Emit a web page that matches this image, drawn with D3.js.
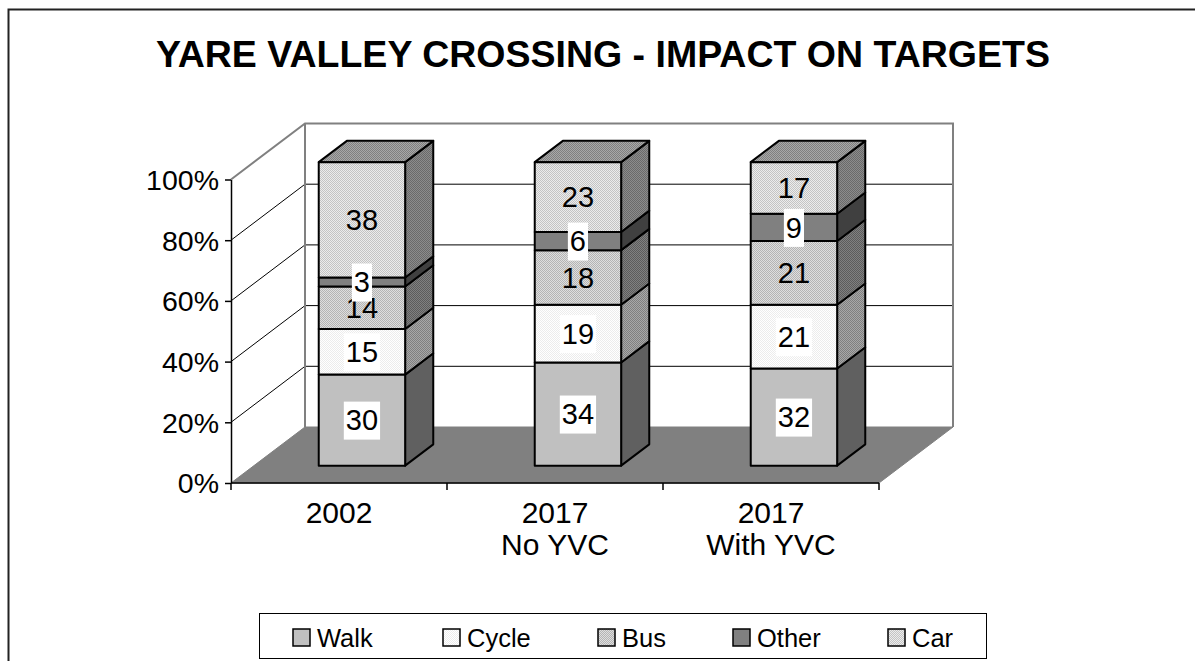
<!DOCTYPE html>
<html>
<head>
<meta charset="utf-8">
<script src="https://cdn.jsdelivr.net/npm/d3@7"></script>
<style>
  body { margin: 0; background: #fff; }
  text { font-family: "Liberation Sans", Arial, sans-serif; }
</style>
</head>
<body>
<div id="chart"></div>
<script>
// data
var categories = [['2002'], ['2017', 'No YVC'], ['2017', 'With YVC']];
var seriesNames = ['Walk', 'Cycle', 'Bus', 'Other', 'Car'];
var walk = [30, 34, 32];
var cycle = [15, 19, 21];
var bus = [14, 18, 21];
var other = [3, 6, 9];
var car = [38, 23, 17];
var yTicks = [0, 20, 40, 60, 80, 100];

var width = 1195;
var height = 661;

// 3d offset of the back wall
var DX = 74, DY = 56;
var z0 = 0.31, z1 = 0.69;

var svg = d3.select('#chart')
  .append('svg')
  .attr('width', width)
  .attr('height', height);

// dotted fills
var defs = svg.append('defs');
function dots(id, base, dot) {
  var p = defs.append('pattern')
    .attr('id', id)
    .attr('width', 2).attr('height', 2)
    .attr('patternUnits', 'userSpaceOnUse');
  p.append('rect').attr('width', 2).attr('height', 2).attr('fill', base);
  p.append('rect').attr('width', 1).attr('height', 1).attr('fill', dot);
  p.append('rect').attr('x', 1).attr('y', 1).attr('width', 1).attr('height', 1).attr('fill', dot);
  return 'url(#' + id + ')';
}

var styles = {
  Walk:  { front: '#c0c0c0', side: '#606060', top: '#909090', label: true },
  Cycle: { front: dots('cyf', '#ffffff', '#ececec'), side: dots('cys', '#a8a8a8', '#808080'), top: '#bbbbbb', label: true },
  Bus:   { front: dots('buf', '#dedede', '#b4b4b4'), side: dots('bus', '#808080', '#5c5c5c'), top: '#999999', label: false },
  Other: { front: '#808080', side: '#404040', top: '#606060', label: true },
  Car:   { front: dots('caf', '#ececec', '#c4c4c4'), side: dots('cas', '#8c8c8c', '#6a6a6a'), top: dots('cat', '#a8a8a8', '#808080'), label: false }
};

var rows = categories.map(function(c, i) {
  return { Walk: walk[i], Cycle: cycle[i], Bus: bus[i], Other: other[i], Car: car[i] };
});
var stack = d3.stack().keys(seriesNames)(rows);

var x = d3.scaleBand()
  .domain(d3.range(categories.length))
  .range([231, 879])
  .padding(0);

var y = d3.scaleLinear()
  .domain([0, 100])
  .range([483, 179.5]);

// project (x, value, depth) onto the page
function P(px, v, z) {
  return [px + z * DX, y(v) - z * DY];
}
function poly(pts) {
  return 'M' + pts.map(function(p) { return p.join(','); }).join('L') + 'Z';
}

// title
svg.append('text')
  .attr('x', 603)
  .attr('y', 67)
  .attr('text-anchor', 'middle')
  .style('font-size', '37.5px')
  .style('font-weight', 'bold')
  .text('YARE VALLEY CROSSING - IMPACT ON TARGETS');

var xl = x.range()[0], xr = x.range()[1];

// walls
svg.append('path')
  .attr('d', poly([P(xl, 0, 0), P(xl, 100, 0), P(xl, 100, 1), P(xl, 0, 1)]))
  .attr('fill', '#fff');
svg.append('path')
  .attr('d', poly([P(xl, 0, 1), P(xl, 100, 1), P(xr, 100, 1), P(xr, 0, 1)]))
  .attr('fill', '#fff');

// gridlines
yTicks.filter(function(t) { return t > 0 && t < 100; }).forEach(function(t) {
  svg.append('path')
    .attr('d', 'M' + P(xl, t, 0) + 'L' + P(xl, t, 1) + 'L' + P(xr, t, 1))
    .attr('fill', 'none')
    .attr('stroke', '#000')
    .attr('stroke-width', 1);
});

// wall edges
svg.append('path')
  .attr('d', 'M' + P(xl, 100, 0) + 'L' + P(xl, 100, 1) + 'L' + P(xr, 100, 1) + 'L' + P(xr, 0, 1))
  .attr('fill', 'none')
  .attr('stroke', '#808080')
  .attr('stroke-width', 2);
svg.append('path')
  .attr('d', 'M' + P(xl, 100, 1) + 'L' + P(xl, 0, 1))
  .attr('fill', 'none')
  .attr('stroke', '#808080')
  .attr('stroke-width', 2);

// floor
svg.append('path')
  .attr('d', poly([P(xl, 0, 0), P(xr, 0, 0), P(xr, 0, 1), P(xl, 0, 1)]))
  .attr('fill', '#808080')
  .attr('stroke', '#808080')
  .attr('stroke-width', 1);

// y axis
var yAxis = svg.append('g')
  .attr('transform', 'translate(' + xl + ',0)')
  .call(d3.axisLeft(y).tickValues(yTicks).tickFormat(function(d) { return d + '%'; })
    .tickSize(6).tickSizeOuter(0).tickPadding(6));
yAxis.select('.domain').attr('stroke', '#000').attr('stroke-width', 1.5);
yAxis.selectAll('.tick line').attr('stroke', '#000').attr('stroke-width', 1.5);
yAxis.selectAll('text')
  .style('font-family', '"Liberation Sans", Arial, sans-serif')
  .style('font-size', '28.5px')
  .attr('fill', '#000')
  .attr('dy', '0.35em');

// x axis
svg.append('line')
  .attr('x1', xl).attr('x2', xr)
  .attr('y1', y(0)).attr('y2', y(0))
  .attr('stroke', '#000').attr('stroke-width', 1.5);
var bounds = x.domain().map(function(i) { return x(i); }).concat([xr]);
svg.selectAll('line.xtick')
  .data(bounds)
  .enter()
  .append('line')
  .attr('class', 'xtick')
  .attr('x1', function(d) { return d; })
  .attr('x2', function(d) { return d; })
  .attr('y1', y(0))
  .attr('y2', y(0) + 7)
  .attr('stroke', '#000')
  .attr('stroke-width', 1.5);

var xLabels = svg.selectAll('text.xlab')
  .data(categories)
  .enter()
  .append('text')
  .attr('class', 'xlab')
  .attr('text-anchor', 'middle')
  .style('font-size', '30px');
xLabels.selectAll('tspan')
  .data(function(d, i) { return d.map(function(s) { return { s: s, i: i }; }); })
  .enter()
  .append('tspan')
  .attr('x', function(d) { return x(d.i) + x.bandwidth() / 2; })
  .attr('y', function(d, j) { return 523 + j * 32; })
  .text(function(d) { return d.s; });

// bars
var bw = x.bandwidth() * 0.4;
var off = x.bandwidth() * 0.3;
var bars = svg.selectAll('g.bar')
  .data(d3.range(categories.length))
  .enter()
  .append('g')
  .attr('class', 'bar');

bars.each(function(i) {
  var g = d3.select(this);
  var a = x(i) + off, b = a + bw;
  stack.forEach(function(layer, k) {
    var st = styles[layer.key];
    var v0 = layer[i][0], v1 = layer[i][1];
    g.append('path')
      .attr('d', poly([P(b, v0, z0), P(b, v0, z1), P(b, v1, z1), P(b, v1, z0)]))
      .attr('fill', st.side)
      .attr('stroke', '#000').attr('stroke-width', 2).attr('stroke-linejoin', 'round');
    if (k == stack.length - 1) {
      g.append('path')
        .attr('d', poly([P(a, v1, z0), P(b, v1, z0), P(b, v1, z1), P(a, v1, z1)]))
        .attr('fill', st.top)
        .attr('stroke', '#000').attr('stroke-width', 2).attr('stroke-linejoin', 'round');
    }
    g.append('path')
      .attr('d', poly([P(a, v0, z0), P(b, v0, z0), P(b, v1, z0), P(a, v1, z0)]))
      .attr('fill', st.front)
      .attr('stroke', '#000').attr('stroke-width', 2).attr('stroke-linejoin', 'round');
  });
  // labels on top of the faces
  stack.forEach(function(layer) {
    var st = styles[layer.key];
    var v0 = layer[i][0], v1 = layer[i][1];
    var c = P((a + b) / 2, (v0 + v1) / 2, z0);
    var val = v1 - v0;
    var t = g.append('text')
      .attr('x', c[0])
      .attr('y', c[1])
      .attr('dy', '0.35em')
      .attr('text-anchor', 'middle')
      .style('font-size', '29px')
      .text(val);
    if (st.label) {
      var bb = t.node().getBBox();
      g.insert('rect', function() { return t.node(); })
        .attr('x', bb.x - 2)
        .attr('y', c[1] - 18.5)
        .attr('width', bb.width + 4)
        .attr('height', 38)
        .attr('fill', '#fff');
    }
  });
});

// legend
var legendX = [293, 443, 598, 733, 888];
svg.append('rect')
  .attr('x', 259.5).attr('y', 613.5)
  .attr('width', 727).attr('height', 45)
  .attr('fill', '#fff')
  .attr('stroke', '#000')
  .attr('stroke-width', 1);
var items = svg.selectAll('g.leg')
  .data(seriesNames)
  .enter()
  .append('g')
  .attr('class', 'leg')
  .attr('transform', function(d, i) { return 'translate(' + legendX[i] + ',629)'; });
items.append('rect')
  .attr('width', 17).attr('height', 17)
  .attr('fill', function(d) { return styles[d].front; })
  .attr('stroke', '#000')
  .attr('stroke-width', 1.5);
items.append('text')
  .attr('x', 24)
  .attr('y', 17.5)
  .style('font-size', '25.5px')
  .text(function(d) { return d; });

// outer frame
svg.append('path')
  .attr('d', 'M8.5,' + height + 'L8.5,9.5L' + width + ',9.5')
  .attr('fill', 'none')
  .attr('stroke', '#222')
  .attr('stroke-width', 2);
</script>
</body>
</html>
